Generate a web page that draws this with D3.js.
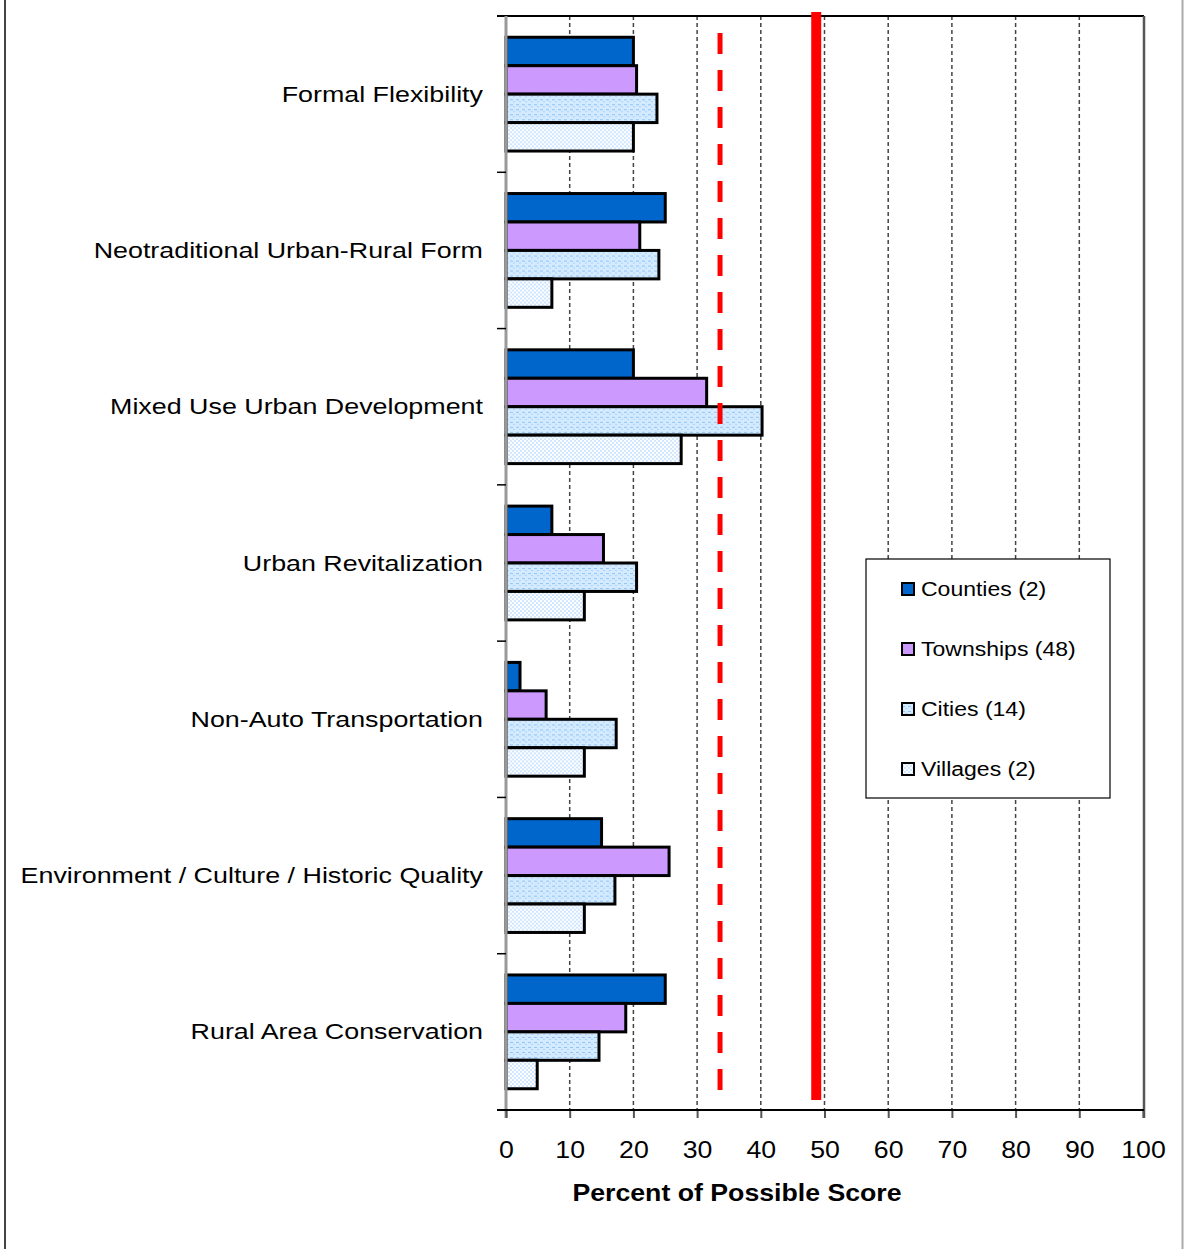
<!DOCTYPE html>
<html>
<head>
<meta charset="utf-8">
<script src="https://cdn.jsdelivr.net/npm/d3@7"></script>
<style>
  html, body { margin: 0; padding: 0; background: #fff; }
  svg { display: block; font-family: "Liberation Sans", Arial, sans-serif; }
</style>
</head>
<body>
<svg id="chart" width="1184" height="1249"></svg>
<script>
const categories = [
  "Formal Flexibility",
  "Neotraditional Urban-Rural Form",
  "Mixed Use Urban Development",
  "Urban Revitalization",
  "Non-Auto Transportation",
  "Environment / Culture / Historic Quality",
  "Rural Area Conservation"
];
const seriesNames = ["Counties (2)", "Townships (48)", "Cities (14)", "Villages (2)"];
const counties  = [20, 25, 20, 7.2, 2.2, 15, 25];
const townships = [20.5, 21, 31.5, 15.3, 6.3, 25.6, 18.8];
const cities    = [23.7, 24, 40.2, 20.5, 17.3, 17.1, 14.6];
const villages  = [20, 7.2, 27.5, 12.3, 12.3, 12.3, 4.9];
const xTicks = [0, 10, 20, 30, 40, 50, 60, 70, 80, 90, 100];
const dashedRef = 33.6;
const solidRef = 48.7;
const xTitle = "Percent of Possible Score";

const seriesValues = [counties, townships, cities, villages];

(function () {
const svg = d3.select("#chart");
const pLeft = 506, pRight = 1143, pTop = 16, pBottom = 1110;

function stretch(sel, factor) {
  sel.each(function () {
    const w = this.getComputedTextLength();
    d3.select(this).attr("textLength", w * factor).attr("lengthAdjust", "spacingAndGlyphs");
  });
}

// frame borders of the picture
svg.append("line").attr("x1", 5).attr("x2", 5).attr("y1", 0).attr("y2", 1249)
  .attr("stroke", "#444").attr("stroke-width", 2);
svg.append("line").attr("x1", 1182.5).attr("x2", 1182.5).attr("y1", 0).attr("y2", 1249)
  .attr("stroke", "#aaa").attr("stroke-width", 2);

// patterns
const defs = svg.append("defs");
const pC = defs.append("pattern").attr("id", "pCities").attr("patternUnits", "userSpaceOnUse")
  .attr("width", 6).attr("height", 5);
pC.append("rect").attr("width", 6).attr("height", 5).attr("fill", "#d4eaff");
pC.append("rect").attr("x", 0).attr("y", 2).attr("width", 3).attr("height", 1).attr("fill", "#8fc4f5");
pC.append("rect").attr("x", 3).attr("y", 4).attr("width", 2).attr("height", 1).attr("fill", "#a9d2fa");

const pV = defs.append("pattern").attr("id", "pVillages").attr("patternUnits", "userSpaceOnUse")
  .attr("width", 4).attr("height", 4);
pV.append("rect").attr("width", 4).attr("height", 4).attr("fill", "#ffffff");
pV.append("rect").attr("x", 0).attr("y", 0).attr("width", 2).attr("height", 2).attr("fill", "#cfe6ff");
pV.append("rect").attr("x", 2).attr("y", 2).attr("width", 2).attr("height", 2).attr("fill", "#cfe6ff");

const fills = ["#0066cc", "#cc99ff", "url(#pCities)", "url(#pVillages)"];

const x = d3.scaleLinear().domain([0, 100]).range([pLeft, pRight]);
const y = d3.scaleBand().domain(categories).range([pTop, pBottom]).paddingInner(0.272).paddingOuter(0.136);
const yInner = d3.scaleBand().domain(d3.range(seriesNames.length)).range([0, y.bandwidth()]);

// gridlines
svg.append("g").selectAll("line").data(xTicks.filter(t => t > 0 && t < 100)).join("line")
  .attr("x1", d => x(d)).attr("x2", d => x(d)).attr("y1", pTop).attr("y2", pBottom)
  .attr("stroke", "#444").attr("stroke-width", 1.5).attr("stroke-dasharray", "4,3");

// plot frame top and right
svg.append("line").attr("x1", 497).attr("x2", x(100) + 1).attr("y1", pTop).attr("y2", pTop)
  .attr("stroke", "#000").attr("stroke-width", 2);
svg.append("line").attr("x1", x(100) + 1).attr("x2", x(100) + 1).attr("y1", pTop).attr("y2", pBottom + 8)
  .attr("stroke", "#555").attr("stroke-width", 2.5);

// bars
const groups = svg.append("g").selectAll("g").data(categories).join("g")
  .attr("transform", d => `translate(0,${y(d)})`);
groups.selectAll("rect").data((c, ci) => seriesValues.map((vals, si) => ({ si, v: vals[ci] })))
  .join("rect")
  .attr("x", x(0))
  .attr("y", d => yInner(d.si))
  .attr("width", d => x(d.v) - x(0))
  .attr("height", yInner.bandwidth())
  .attr("fill", d => fills[d.si])
  .attr("stroke", "#000").attr("stroke-width", 3);

// reference lines
svg.append("line").attr("x1", x(dashedRef)).attr("x2", x(dashedRef)).attr("y1", 33).attr("y2", 1100)
  .attr("stroke", "#ff0000").attr("stroke-width", 5).attr("stroke-dasharray", "21,16");
svg.append("line").attr("x1", x(solidRef)).attr("x2", x(solidRef)).attr("y1", 12).attr("y2", 1100)
  .attr("stroke", "#ff0000").attr("stroke-width", 10);

// y axis (left)
svg.append("line").attr("x1", x(0)).attr("x2", x(0)).attr("y1", pTop).attr("y2", pBottom + 8)
  .attr("stroke", "#999").attr("stroke-width", 3);
const boundaries = categories.map(c => y(c) - y.step() * y.paddingInner() / 2).slice(1);
svg.append("g").selectAll("line").data(boundaries).join("line")
  .attr("x1", 497).attr("x2", x(0)).attr("y1", d => d).attr("y2", d => d)
  .attr("stroke", "#000").attr("stroke-width", 1.5);

const catLabels = svg.append("g").selectAll("text").data(categories).join("text")
  .attr("x", 483).attr("y", d => y(d) + y.bandwidth() / 2)
  .attr("text-anchor", "end").attr("dominant-baseline", "central")
  .attr("font-size", 22).attr("fill", "#000")
  .text(d => d);
stretch(catLabels, 1.22);

// x axis
const xAxis = d3.axisBottom(x).tickValues(xTicks).tickSize(8).tickPadding(24).tickFormat(d3.format("d"));
const gx = svg.append("g").attr("transform", `translate(0,${pBottom})`).call(xAxis);
gx.select(".domain").remove();
gx.append("line").attr("x1", 497).attr("x2", x(100) + 1).attr("y1", 0).attr("y2", 0)
  .attr("stroke", "#000").attr("stroke-width", 2);
gx.selectAll(".tick line").attr("stroke", "#555").attr("stroke-width", 2);
const tickTexts = gx.selectAll(".tick text").attr("font-size", 23).attr("fill", "#000")
  .attr("font-family", "'Liberation Sans', Arial, sans-serif");
stretch(tickTexts, 1.16);

const title = svg.append("text").attr("x", 737).attr("y", 1201).attr("text-anchor", "middle")
  .attr("font-size", 23).attr("font-weight", "bold").attr("fill", "#000").text(xTitle);
stretch(title, 1.16);

// legend
const lg = svg.append("g").attr("transform", "translate(866,559)");
lg.append("rect").attr("width", 244).attr("height", 239).attr("fill", "#fff")
  .attr("stroke", "#000").attr("stroke-width", 1.2);
const items = lg.selectAll("g").data(seriesNames).join("g")
  .attr("transform", (d, i) => `translate(36,${30 + i * 60})`);
items.append("rect").attr("x", 0).attr("y", -6).attr("width", 12).attr("height", 12)
  .attr("fill", (d, i) => fills[i]).attr("stroke", "#000").attr("stroke-width", 2);
const legTexts = items.append("text").attr("x", 19).attr("y", 0).attr("dominant-baseline", "central")
  .attr("font-size", 20).attr("fill", "#000").text(d => d);
stretch(legTexts, 1.15);
})();
</script>
</body>
</html>
